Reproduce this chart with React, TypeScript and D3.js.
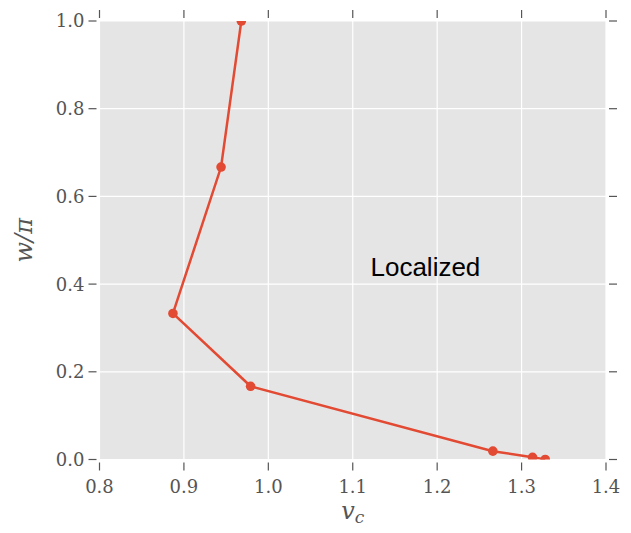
import React from "react";
import * as d3 from "d3";

const vc = [0.968, 0.944, 0.887, 0.979, 1.266, 1.313, 1.328];
const wpi = [1.0, 0.667, 0.333, 0.167, 0.019, 0.005, 0.0];
const xTicks = [0.8, 0.9, 1.0, 1.1, 1.2, 1.3, 1.4];
const yTicks = [0.0, 0.2, 0.4, 0.6, 0.8, 1.0];
const annotation = { text: "Localized", x: 1.121, y: 0.418 };

export default function App() {
  const W = 631, H = 533;
  const L = 99.5, R = 606, T = 21, B = 459.5;
  const x = d3.scaleLinear().domain([0.8, 1.4]).range([L, R]);
  const y = d3.scaleLinear().domain([0, 1]).range([B, T]);
  const line = d3.line<number>().x((_, i) => x(vc[i])).y((d) => y(d));
  const tickColor = "#555";
  const serif = "'DejaVu Serif', 'Liberation Serif', serif";
  return (
    <svg width={W} height={H} style={{ position: "absolute", left: 0, top: 0 }}>
      <defs>
        <clipPath id="plotclip">
          <rect x={L} y={T} width={R - L} height={B - T} />
        </clipPath>
      </defs>
      <rect x={L} y={T} width={R - L} height={B - T} fill="#e5e5e5" />
      {xTicks.map((t) => (
        <line key={"gx" + t} x1={x(t)} x2={x(t)} y1={T} y2={B} stroke="#fff" strokeWidth={1.2} />
      ))}
      {yTicks.map((t) => (
        <line key={"gy" + t} x1={L} x2={R} y1={y(t)} y2={y(t)} stroke="#fff" strokeWidth={1.2} />
      ))}
      {xTicks.map((t) => (
        <g key={"tx" + t}>
          <line x1={x(t)} x2={x(t)} y1={B + 3} y2={B + 11} stroke={tickColor} strokeWidth={1.2} />
          <line x1={x(t)} x2={x(t)} y1={T - 3} y2={T - 11} stroke={tickColor} strokeWidth={1.2} />
          <text x={x(t)} y={B + 33} textAnchor="middle" fontFamily={serif} fontSize={18} fill={tickColor}>
            {t.toFixed(1)}
          </text>
        </g>
      ))}
      {yTicks.map((t) => (
        <g key={"ty" + t}>
          <line x1={L - 3} x2={L - 11} y1={y(t)} y2={y(t)} stroke={tickColor} strokeWidth={1.2} />
          <line x1={R + 3} x2={R + 11} y1={y(t)} y2={y(t)} stroke={tickColor} strokeWidth={1.2} />
          <text x={L - 15} y={y(t)} dy="0.36em" textAnchor="end" fontFamily={serif} fontSize={18} fill={tickColor}>
            {t.toFixed(1)}
          </text>
        </g>
      ))}
      <g clipPath="url(#plotclip)">
        <path d={line(wpi) || ""} fill="none" stroke="#E24A33" strokeWidth={2.5} />
        {wpi.map((d, i) => (
          <circle key={"p" + i} cx={x(vc[i])} cy={y(d)} r={4.8} fill="#E24A33" />
        ))}
      </g>
      <text x={x(annotation.x)} y={y(annotation.y)} fontFamily="'Liberation Sans', Arial, sans-serif" fontSize={26} fill="#000">
        {annotation.text}
      </text>
      <text x={(L + R) / 2} y={519} textAnchor="middle" fontFamily={serif} fontStyle="italic" fontSize={24} fill={tickColor}>
        v<tspan fontSize={17} dy={4}>c</tspan>
      </text>
      <text transform={`translate(32, ${(T + B) / 2}) rotate(-90)`} textAnchor="middle" fontFamily={serif} fontStyle="italic" fontSize={24} fill={tickColor}>
        w/π
      </text>
    </svg>
  );
}
